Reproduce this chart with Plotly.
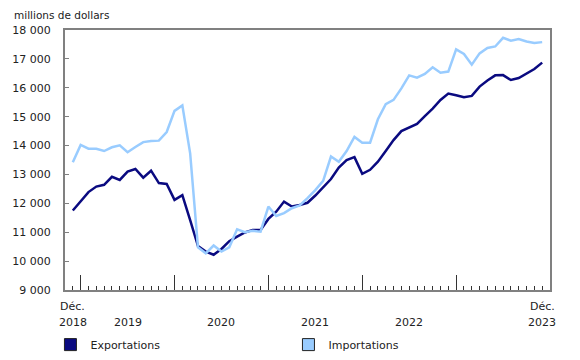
import plotly.graph_objects as go

months = list(range(61))  # Dec 2018 .. Dec 2023 (monthly index)

exportations = [11750, 12060, 12390, 12580, 12640, 12920, 12810, 13100, 13190, 12890,
                13130, 12700, 12670, 12120, 12280, 11420, 10520, 10330, 10220, 10420,
                10690, 10850, 10990, 11080, 11080, 11460, 11710, 12060, 11890, 11940,
                12020, 12270, 12540, 12840, 13240, 13500, 13600, 13020, 13160, 13440,
                13810, 14190, 14500, 14630, 14750, 15020, 15280, 15580, 15800, 15740,
                15670, 15720, 16040, 16250, 16430, 16440, 16270, 16340, 16500, 16650,
                16870]

importations = [13420, 14020, 13890, 13890, 13810, 13940, 14010, 13770, 13950, 14120,
                14160, 14170, 14470, 15200, 15390, 13730, 10480, 10270, 10540, 10330,
                10480, 11100, 11000, 11050, 11020, 11890, 11560, 11660, 11830, 11930,
                12180, 12460, 12780, 13620, 13440, 13810, 14300, 14100, 14100, 14910,
                15430, 15580, 15980, 16430, 16350, 16480, 16710, 16520, 16560, 17330,
                17170, 16800, 17190, 17380, 17430, 17730, 17630, 17690, 17600, 17550,
                17580]

year_ticks = [1, 13, 25, 37, 49]          # January of each year (long ticks)
label_pos = [0, 7, 19, 31, 43, 60]
label_top = ["Déc.", "", "", "", "", "Déc."]
label_bottom = ["2018", "2019", "2020", "2021", "2022", "2023"]

c_exp = "#0a0a80"
c_imp = "#99ccff"
font = "DejaVu Sans, Verdana, sans-serif"

fig = go.Figure()
fig.add_trace(go.Scatter(x=months, y=exportations, mode="lines", name="Exportations",
                         line=dict(color=c_exp, width=2.5), showlegend=False))
fig.add_trace(go.Scatter(x=months, y=importations, mode="lines", name="Importations",
                         line=dict(color=c_imp, width=2.5), showlegend=False))
# legend swatches (square)
fig.add_trace(go.Bar(x=[None], y=[None], name="Exportations",
                     marker=dict(color=c_exp, line=dict(color="#222", width=1))))
fig.add_trace(go.Bar(x=[None], y=[None], name="Importations",
                     marker=dict(color=c_imp, line=dict(color="#222", width=1))))

annotations = []
for p, t, b in zip(label_pos, label_top, label_bottom):
    if t:
        annotations.append(dict(x=p, y=0, xref="x", yref="paper", text=t, showarrow=False,
                                yanchor="middle", yshift=-16, font=dict(size=11)))
    annotations.append(dict(x=p, y=0, xref="x", yref="paper", text=b, showarrow=False,
                            yanchor="middle", yshift=-32, font=dict(size=11)))
annotations.append(dict(x=0, y=1, xref="paper", yref="paper", text="millions de dollars",
                        showarrow=False, xanchor="left", yanchor="middle", xshift=-53,
                        yshift=15, font=dict(size=10.5)))

fig.update_layout(
    width=580, height=360,
    margin=dict(l=57, r=38, t=22, b=78, autoexpand=False),
    paper_bgcolor="white", plot_bgcolor="white",
    font=dict(family=font, size=11, color="#222"),
    separators=", ",
    showlegend=True,
    legend=dict(orientation="h", x=-0.03, xanchor="left", y=-0.21, yanchor="middle",
                entrywidth=193, itemwidth=30, font=dict(size=11),
                bgcolor="rgba(0,0,0,0)"),
    annotations=annotations,
    xaxis=dict(range=[-1, 61], showgrid=False, zeroline=False,
               showline=True, mirror=True, linecolor="#808080", linewidth=2,
               tickmode="array", tickvals=year_ticks, ticks="inside", ticklen=15,
               tickcolor="#333", tickwidth=1, showticklabels=False,
               minor=dict(ticks="inside", dtick=1, tick0=0, ticklen=4,
                          tickcolor="#333", tickwidth=1, showgrid=False)),
    yaxis=dict(range=[9000, 18000], dtick=1000, tick0=9000, showgrid=False, zeroline=False,
               showline=True, mirror=True, linecolor="#808080", linewidth=2,
               ticks="inside", ticklen=4, tickcolor="#808080", tickformat=",d",
               ticklabelstandoff=10),
)

fig.write_html("out.html")
